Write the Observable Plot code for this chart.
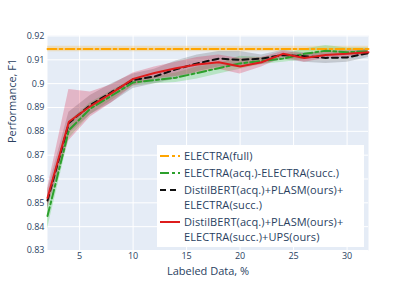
<!DOCTYPE html>
<html><head><meta charset="utf-8">
<script src="https://cdn.jsdelivr.net/npm/d3@7"></script>
<script src="https://cdn.jsdelivr.net/npm/@observablehq/plot@0.6"></script>
<style>
body{margin:0;background:#fff;font-family:"Open Sans",sans-serif;}
#wrap{position:relative;width:415px;height:297px;}
#legend{position:absolute;left:157px;top:145px;width:207px;height:102px;background:#fff;box-sizing:border-box;padding:3px 2px;color:#2a3f5f;font-size:11px;line-height:15px;letter-spacing:0.1px;}
.item{display:flex;align-items:flex-start;margin-bottom:2px;}
.item svg{flex:none;margin-right:3px;}
</style></head><body>
<div id="wrap"><div id="chart"></div><div id="legend"></div></div>
<script>
const xs = [2,4,6,8,10,12,14,16,18,20,22,24,26,28,30,32];

const redMean = [0.852,0.884,0.8905,0.896,0.902,0.9045,0.9065,0.908,0.909,0.9072,0.909,0.9125,0.9108,0.912,0.9125,0.9132];
const redLo   = [0.848,0.876,0.886,0.892,0.899,0.902,0.903,0.9045,0.906,0.904,0.907,0.911,0.909,0.9105,0.911,0.912];
const redHi   = [0.856,0.8975,0.8965,0.8995,0.9045,0.907,0.909,0.911,0.912,0.9105,0.911,0.9135,0.9125,0.9135,0.914,0.9145];

const blackMean = [0.851,0.8835,0.891,0.8965,0.9015,0.903,0.906,0.9085,0.9105,0.910,0.9105,0.912,0.9115,0.9108,0.911,0.9128];
const blackLo   = [0.847,0.879,0.887,0.892,0.898,0.900,0.902,0.905,0.907,0.907,0.908,0.910,0.909,0.9085,0.909,0.911];
const blackHi   = [0.855,0.888,0.895,0.900,0.904,0.906,0.9095,0.912,0.9135,0.9135,0.912,0.914,0.913,0.913,0.913,0.9145];

const greenMean = [0.8445,0.8805,0.8895,0.895,0.9005,0.9015,0.9025,0.9045,0.9065,0.9085,0.9095,0.9105,0.9125,0.9138,0.9132,0.9135];
const greenLo   = [0.839,0.877,0.887,0.893,0.899,0.900,0.9005,0.902,0.904,0.906,0.908,0.909,0.910,0.912,0.912,0.912];
const greenHi   = [0.850,0.884,0.892,0.897,0.902,0.903,0.9045,0.907,0.9085,0.9115,0.911,0.912,0.9145,0.916,0.915,0.915];

const fullX = [2,32];
const fullMean = [0.9145,0.9145];
const fullLo = [0.9134,0.9134];
const fullHi = [0.9157,0.9157];

const xTicks = [5,10,15,20,25,30];
const yTicks = [0.83,0.84,0.85,0.86,0.87,0.88,0.89,0.9,0.91,0.92];

const seriesNames = ["ELECTRA(full)","ELECTRA(acq.)-ELECTRA(succ.)","DistilBERT(acq.)+PLASM(ours)+<br>ELECTRA(succ.)","DistilBERT(acq.)+PLASM(ours)+<br>ELECTRA(succ.)+UPS(ours)"];

function rows(x, m, lo, hi){ return x.map((v,i)=>({x:v, m:m[i], lo:lo[i], hi:hi[i]})); }
const full = rows(fullX, fullMean, fullLo, fullHi);
const green = rows(xs, greenMean, greenLo, greenHi);
const black = rows(xs, blackMean, blackLo, blackHi);
const red = rows(xs, redMean, redLo, redHi);

const styles = [
  {data: full, stroke:"#FFA500", fill:"rgba(255,165,0,0.22)", dash:"9,3,3,3"},
  {data: green, stroke:"#2ca02c", fill:"rgba(50,205,50,0.25)", dash:"9,3,3,3"},
  {data: black, stroke:"#111", fill:"rgba(70,70,70,0.22)", dash:"6,4"},
  {data: red, stroke:"#dd1c1c", fill:"rgba(220,20,60,0.25)", dash:null}
];

const marks = [
  Plot.frame({fill:"#E5ECF6", stroke:null}),
  Plot.gridY(yTicks, {stroke:"white", strokeOpacity:1, strokeWidth:1}),
  Plot.gridX(xTicks, {stroke:"white", strokeOpacity:1, strokeWidth:1}),
];
for (const s of styles) {
  marks.push(Plot.areaY(s.data, {x:"x", y1:"lo", y2:"hi", fill:s.fill, curve:"linear"}));
}
for (const s of styles) {
  marks.push(Plot.lineY(s.data, {x:"x", y:"m", stroke:s.stroke, strokeWidth:2, strokeDasharray:s.dash}));
}
marks.push(
  Plot.axisX(xTicks, {tickSize:0, tickPadding:2, fontSize:9, label:null}),
  Plot.axisY(yTicks, {tickSize:0, tickPadding:3, fontSize:9, label:null, tickFormat:d=>String(+d.toFixed(2))}),
  Plot.text(["Labeled Data, %"], {frameAnchor:"bottom", dy:24, fontSize:11}),
  Plot.text(["Performance, F1"], {frameAnchor:"left", rotate:-90, dx:-35, fontSize:11})
);

const chart = Plot.plot({
  width:415, height:297,
  marginLeft:47, marginRight:47, marginTop:35, marginBottom:47,
  x:{domain:[2,32]},
  y:{domain:[0.83,0.9202]},
  style:{color:"#2a3f5f", fontFamily:"'Open Sans', sans-serif", background:"white"},
  marks
});
document.getElementById("chart").appendChild(chart);

const leg = document.getElementById("legend");
styles.forEach((s,i)=>{
  const div = document.createElement("div");
  div.className = "item";
  const dash = s.dash ? `stroke-dasharray="${s.dash}"` : "";
  div.innerHTML = `<svg width="22" height="15"><line x1="1" x2="21" y1="8" y2="8" stroke="${s.stroke}" stroke-width="2" ${dash}/></svg><span>${seriesNames[i]}</span>`;
  leg.appendChild(div);
});
</script>
</body></html>
